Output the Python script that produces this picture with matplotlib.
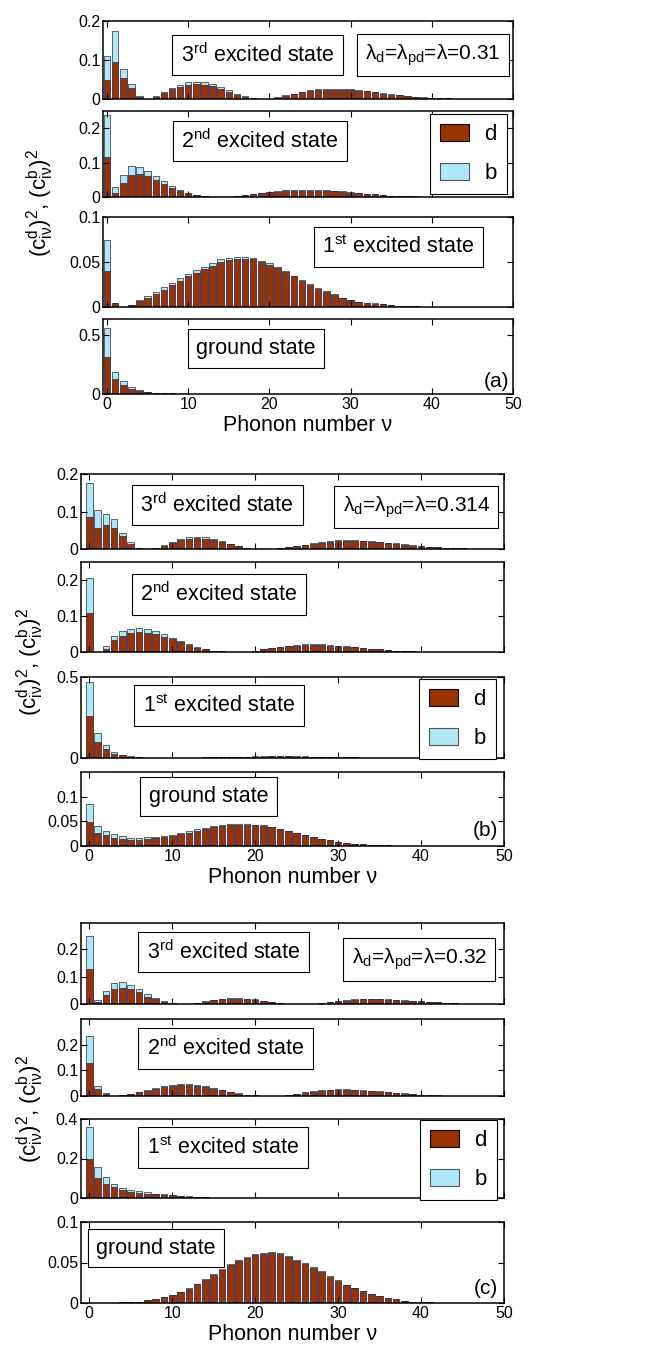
import matplotlib
matplotlib.use('Agg')
import matplotlib.pyplot as plt
from matplotlib.patches import Patch

plt.rcParams['font.family'] = ['Liberation Sans', 'DejaVu Sans']
plt.rcParams['mathtext.fontset'] = 'custom'
plt.rcParams['mathtext.rm'] = 'Liberation Sans'
plt.rcParams['mathtext.it'] = 'Liberation Sans'
plt.rcParams['mathtext.default'] = 'regular'

nu = list(range(51))

# ---- panel (a), lambda = 0.31 : total bar height (d+b) and d part ----
a3_tot = [0.109, 0.174, 0.077, 0.038, 0.0076, 0.0, 0.0076, 0.018, 0.029, 0.037, 0.043, 0.044, 0.043, 0.038, 0.030,
          0.022, 0.013, 0.007, 0.002, 0.0005, 0.001, 0.004, 0.009, 0.014, 0.019, 0.023, 0.025, 0.026, 0.026, 0.026,
          0.025, 0.023, 0.021, 0.018, 0.015, 0.012, 0.010, 0.007, 0.005, 0.004, 0.003, 0.002, 0.0015, 0.001, 0.0007,
          0.0005, 0.0003, 0.0002, 0.0001, 0.0, 0.0]
a3_d = [0.050, 0.096, 0.054, 0.027, 0.006, 0.0, 0.006, 0.015, 0.025, 0.032, 0.037, 0.038, 0.037, 0.033, 0.026,
        0.019, 0.011, 0.006, 0.002, 0.0004, 0.001, 0.0037, 0.0084, 0.013, 0.0177, 0.0214, 0.0233, 0.0242, 0.0242, 0.0242,
        0.0233, 0.0214, 0.0195, 0.0167, 0.014, 0.0112, 0.0093, 0.0065, 0.0047, 0.0037, 0.0028, 0.0019, 0.0014, 0.0009, 0.0007,
        0.0005, 0.0003, 0.0002, 0.0001, 0.0, 0.0]

a2_tot = [0.238, 0.028, 0.064, 0.091, 0.087, 0.077, 0.062, 0.046, 0.032, 0.020, 0.013, 0.006, 0.002, 0.0005, 0.0003,
          0.001, 0.003, 0.006, 0.009, 0.012, 0.015, 0.017, 0.019, 0.020, 0.020, 0.020, 0.020, 0.019, 0.018, 0.016,
          0.014, 0.012, 0.010, 0.008, 0.006, 0.004, 0.003, 0.002, 0.0015, 0.001, 0.0007, 0.0005, 0.0003, 0.0002, 0.0001,
          0.0, 0.0, 0.0, 0.0, 0.0, 0.0]
a2_d = [0.117, 0.012, 0.041, 0.064, 0.067, 0.061, 0.050, 0.038, 0.026, 0.017, 0.011, 0.005, 0.0017, 0.0004, 0.0002,
        0.0009, 0.0028, 0.0056, 0.0084, 0.0112, 0.014, 0.0158, 0.0177, 0.0186, 0.0186, 0.0186, 0.0186, 0.0177, 0.0167, 0.0149,
        0.013, 0.0112, 0.0093, 0.0074, 0.0056, 0.0037, 0.0028, 0.0019, 0.0014, 0.0009, 0.0007, 0.0005, 0.0003, 0.0002, 0.0001,
        0.0, 0.0, 0.0, 0.0, 0.0, 0.0]

a1_tot = [0.074, 0.0044, 0.0002, 0.0026, 0.0074, 0.012, 0.017, 0.022, 0.027, 0.032, 0.037, 0.041, 0.045, 0.049, 0.053,
          0.054, 0.055, 0.055, 0.054, 0.051, 0.049, 0.044, 0.040, 0.035, 0.030, 0.026, 0.021, 0.018, 0.014, 0.010,
          0.008, 0.006, 0.005, 0.004, 0.003, 0.002, 0.0015, 0.001, 0.0008, 0.0005, 0.0003, 0.0002, 0.0001, 0.0, 0.0,
          0.0, 0.0, 0.0, 0.0, 0.0, 0.0]
a1_d = [0.040, 0.004, 0.0002, 0.0024, 0.0063, 0.010, 0.015, 0.019, 0.025, 0.029, 0.034, 0.038, 0.042, 0.046, 0.050,
        0.052, 0.053, 0.053, 0.053, 0.050, 0.047, 0.043, 0.039, 0.034, 0.029, 0.025, 0.020, 0.017, 0.013, 0.0095,
        0.0075, 0.0057, 0.0047, 0.0038, 0.0028, 0.0019, 0.0014, 0.0009, 0.0007, 0.0005, 0.0003, 0.0002, 0.0001, 0.0, 0.0,
        0.0, 0.0, 0.0, 0.0, 0.0, 0.0]

a0_tot = [0.565, 0.190, 0.107, 0.056, 0.031, 0.020, 0.011, 0.007, 0.005, 0.004, 0.003, 0.002, 0.0015, 0.0012, 0.001,
          0.001, 0.0008, 0.0006, 0.0005, 0.0004, 0.0003, 0.0002, 0.0001, 0.0, 0.0, 0.0, 0.0, 0.0, 0.0, 0.0,
          0.0, 0.0, 0.0, 0.0, 0.0, 0.0, 0.0, 0.0, 0.0, 0.0, 0.0, 0.0, 0.0, 0.0, 0.0,
          0.0, 0.0, 0.0, 0.0, 0.0, 0.0]
a0_d = [0.316, 0.124, 0.073, 0.040, 0.025, 0.016, 0.009, 0.006, 0.0045, 0.0035, 0.0027, 0.0018, 0.0013, 0.0011, 0.0009,
        0.0009, 0.0007, 0.0005, 0.0004, 0.0003, 0.0002, 0.0002, 0.0001, 0.0, 0.0, 0.0, 0.0, 0.0, 0.0, 0.0,
        0.0, 0.0, 0.0, 0.0, 0.0, 0.0, 0.0, 0.0, 0.0, 0.0, 0.0, 0.0, 0.0, 0.0, 0.0,
        0.0, 0.0, 0.0, 0.0, 0.0, 0.0]

# ---- panel (b), lambda = 0.314 ----
b3_tot = [0.176, 0.105, 0.093, 0.080, 0.044, 0.018, 0.004, 0.001, 0.003, 0.011, 0.018, 0.026, 0.031, 0.033, 0.031,
          0.027, 0.021, 0.014, 0.008, 0.0035, 0.001, 0.0003, 0.001, 0.003, 0.005, 0.009, 0.012, 0.015, 0.018, 0.021,
          0.023, 0.023, 0.023, 0.022, 0.021, 0.019, 0.017, 0.015, 0.013, 0.010, 0.008, 0.006, 0.005, 0.003, 0.002,
          0.0015, 0.001, 0.0008, 0.0005, 0.0003, 0.0002]
b3_d = [0.085, 0.057, 0.063, 0.057, 0.034, 0.014, 0.0035, 0.001, 0.0027, 0.009, 0.016, 0.024, 0.027, 0.029, 0.027,
        0.024, 0.019, 0.013, 0.0072, 0.003, 0.001, 0.0003, 0.001, 0.0028, 0.0047, 0.0084, 0.011, 0.014, 0.017, 0.0195,
        0.0214, 0.0214, 0.0214, 0.0205, 0.0195, 0.0177, 0.0158, 0.014, 0.012, 0.0093, 0.0074, 0.0056, 0.0047, 0.0028, 0.0019,
        0.0014, 0.0009, 0.0007, 0.0005, 0.0003, 0.0002]

b2_tot = [0.205, 0.001, 0.018, 0.044, 0.059, 0.065, 0.066, 0.064, 0.057, 0.049, 0.039, 0.031, 0.021, 0.014, 0.008,
          0.004, 0.002, 0.001, 0.001, 0.001, 0.004, 0.0075, 0.011, 0.014, 0.017, 0.019, 0.021, 0.021, 0.021, 0.019,
          0.018, 0.016, 0.014, 0.012, 0.009, 0.0075, 0.0056, 0.004, 0.003, 0.002, 0.001, 0.001, 0.0005, 0.0003, 0.0002,
          0.0001, 0.0, 0.0, 0.0, 0.0, 0.0]
b2_d = [0.107, 0.0005, 0.009, 0.033, 0.044, 0.053, 0.055, 0.054, 0.050, 0.043, 0.035, 0.027, 0.019, 0.012, 0.007,
        0.0035, 0.0018, 0.0009, 0.0009, 0.0009, 0.0037, 0.007, 0.010, 0.013, 0.0158, 0.0177, 0.0195, 0.0195, 0.0195, 0.0177,
        0.0167, 0.0149, 0.013, 0.011, 0.0084, 0.007, 0.0052, 0.0037, 0.0028, 0.0019, 0.0009, 0.0009, 0.0005, 0.0003, 0.0002,
        0.0001, 0.0, 0.0, 0.0, 0.0, 0.0]

b1_tot = [0.47, 0.153, 0.082, 0.039, 0.020, 0.010, 0.005, 0.002, 0.001, 0.0008, 0.0008, 0.001, 0.002, 0.003, 0.004,
          0.005, 0.006, 0.007, 0.008, 0.009, 0.010, 0.010, 0.011, 0.011, 0.011, 0.010, 0.010, 0.009, 0.008, 0.007,
          0.006, 0.005, 0.004, 0.003, 0.003, 0.002, 0.002, 0.001, 0.0008, 0.0005, 0.0003, 0.0002, 0.0, 0.0, 0.0,
          0.0, 0.0, 0.0, 0.0, 0.0, 0.0]
b1_d = [0.26, 0.098, 0.055, 0.027, 0.016, 0.008, 0.004, 0.0015, 0.0008, 0.0007, 0.0007, 0.0009, 0.0018, 0.0027, 0.0036,
        0.0045, 0.0055, 0.0064, 0.0073, 0.0082, 0.0091, 0.0091, 0.010, 0.010, 0.010, 0.0091, 0.0091, 0.0082, 0.0073, 0.0064,
        0.0055, 0.0045, 0.0036, 0.0027, 0.0027, 0.0018, 0.0018, 0.0009, 0.0007, 0.0005, 0.0003, 0.0002, 0.0, 0.0, 0.0,
        0.0, 0.0, 0.0, 0.0, 0.0, 0.0]

b0_tot = [0.086, 0.040, 0.030, 0.024, 0.020, 0.017, 0.017, 0.018, 0.019, 0.021, 0.023, 0.0265, 0.030, 0.034, 0.037,
          0.040, 0.042, 0.044, 0.045, 0.045, 0.0435, 0.042, 0.039, 0.035, 0.031, 0.0265, 0.023, 0.018, 0.015, 0.0116,
          0.009, 0.0068, 0.0048, 0.0034, 0.0027, 0.002, 0.0014, 0.001, 0.0006, 0.0004, 0.0002, 0.0001, 0.0, 0.0, 0.0,
          0.0, 0.0, 0.0, 0.0, 0.0, 0.0]
b0_d = [0.049, 0.027, 0.022, 0.016, 0.0136, 0.013, 0.013, 0.0136, 0.0156, 0.018, 0.021, 0.024, 0.027, 0.031, 0.035,
        0.038, 0.040, 0.042, 0.043, 0.043, 0.042, 0.041, 0.038, 0.034, 0.030, 0.0258, 0.0224, 0.0175, 0.0146, 0.0113,
        0.0088, 0.0066, 0.0047, 0.0033, 0.0026, 0.0019, 0.0013, 0.001, 0.0006, 0.0004, 0.0002, 0.0001, 0.0, 0.0, 0.0,
        0.0, 0.0, 0.0, 0.0, 0.0, 0.0]

# ---- panel (c), lambda = 0.32 ----
c3_tot = [0.249, 0.015, 0.046, 0.078, 0.079, 0.068, 0.054, 0.037, 0.022, 0.010, 0.004, 0.001, 0.001, 0.005, 0.010,
          0.015, 0.0195, 0.022, 0.022, 0.0195, 0.017, 0.012, 0.0073, 0.0037, 0.001, 0.0003, 0.0003, 0.001, 0.0024, 0.006,
          0.010, 0.0134, 0.017, 0.018, 0.018, 0.018, 0.017, 0.016, 0.0134, 0.012, 0.010, 0.0073, 0.006, 0.0037, 0.0024,
          0.0015, 0.001, 0.0008, 0.0005, 0.0003, 0.0002]
c3_d = [0.127, 0.007, 0.032, 0.054, 0.060, 0.054, 0.043, 0.027, 0.018, 0.008, 0.0035, 0.0008, 0.0008, 0.0045, 0.009,
        0.0135, 0.0176, 0.0198, 0.0198, 0.0176, 0.0153, 0.0108, 0.0066, 0.0033, 0.0009, 0.0003, 0.0003, 0.0009, 0.0022, 0.0055,
        0.0092, 0.0123, 0.0156, 0.0166, 0.0166, 0.0166, 0.0156, 0.0147, 0.0123, 0.011, 0.0092, 0.0067, 0.0055, 0.0034, 0.0022,
        0.0014, 0.0009, 0.0007, 0.0005, 0.0003, 0.0002]

c2_tot = [0.235, 0.040, 0.010, 0.001, 0.003, 0.008, 0.016, 0.0235, 0.031, 0.039, 0.044, 0.047, 0.046, 0.043, 0.038,
          0.031, 0.025, 0.017, 0.010, 0.005, 0.0026, 0.001, 0.0008, 0.001, 0.004, 0.009, 0.014, 0.018, 0.022, 0.025,
          0.026, 0.026, 0.025, 0.0235, 0.021, 0.018, 0.016, 0.013, 0.010, 0.008, 0.005, 0.0026, 0.002, 0.001, 0.0008,
          0.0005, 0.0003, 0.0002, 0.0001, 0.0, 0.0]
c2_d = [0.128, 0.026, 0.009, 0.0008, 0.0027, 0.0072, 0.014, 0.020, 0.027, 0.034, 0.039, 0.042, 0.042, 0.039, 0.034,
        0.027, 0.022, 0.015, 0.009, 0.0045, 0.0023, 0.0009, 0.0007, 0.0009, 0.0036, 0.0081, 0.0126, 0.0162, 0.0198, 0.0225,
        0.0234, 0.0234, 0.0225, 0.0212, 0.019, 0.0162, 0.0144, 0.0117, 0.009, 0.0072, 0.0045, 0.0023, 0.0018, 0.0009, 0.0007,
        0.0005, 0.0003, 0.0002, 0.0001, 0.0, 0.0]

c1_tot = [0.357, 0.159, 0.107, 0.071, 0.050, 0.038, 0.033, 0.028, 0.022, 0.019, 0.016, 0.012, 0.009, 0.005, 0.0035,
          0.002, 0.0015, 0.001, 0.001, 0.001, 0.001, 0.0012, 0.0015, 0.0018, 0.002, 0.0022, 0.0024, 0.0025, 0.0025, 0.0024,
          0.0022, 0.002, 0.0018, 0.0015, 0.0012, 0.001, 0.0008, 0.0006, 0.0004, 0.0003, 0.0002, 0.0001, 0.0, 0.0, 0.0,
          0.0, 0.0, 0.0, 0.0, 0.0, 0.0]
c1_d = [0.198, 0.103, 0.072, 0.055, 0.038, 0.029, 0.026, 0.022, 0.019, 0.016, 0.013, 0.010, 0.0075, 0.0042, 0.003,
        0.0017, 0.0013, 0.0009, 0.0009, 0.0009, 0.0009, 0.0011, 0.0013, 0.0016, 0.0018, 0.002, 0.0022, 0.0023, 0.0023, 0.0022,
        0.002, 0.0018, 0.0016, 0.0013, 0.0011, 0.0009, 0.0007, 0.0005, 0.0004, 0.0003, 0.0002, 0.0001, 0.0, 0.0, 0.0,
        0.0, 0.0, 0.0, 0.0, 0.0, 0.0]

c0_tot = [0.0003, 0.0003, 0.0004, 0.0005, 0.0007, 0.001, 0.0017, 0.0033, 0.0054, 0.0079, 0.0104, 0.014, 0.0187, 0.024, 0.030,
          0.0357, 0.0423, 0.048, 0.053, 0.057, 0.0606, 0.0622, 0.0627, 0.0614, 0.058, 0.053, 0.049, 0.044, 0.039, 0.033,
          0.028, 0.0228, 0.0183, 0.0145, 0.0112, 0.0083, 0.0062, 0.0046, 0.0029, 0.0017, 0.0012, 0.0008, 0.0004, 0.0003, 0.0002,
          0.0001, 0.0001, 0.0, 0.0, 0.0, 0.0]
c0_d = [0.0003, 0.0003, 0.0004, 0.0005, 0.0007, 0.001, 0.0016, 0.0031, 0.0051, 0.0075, 0.0099, 0.0133, 0.0178, 0.0229, 0.0287,
        0.0342, 0.0407, 0.0463, 0.0513, 0.0553, 0.0590, 0.0607, 0.0613, 0.0601, 0.0568, 0.0520, 0.0481, 0.0432, 0.0384, 0.0325,
        0.0276, 0.0225, 0.0181, 0.0143, 0.0111, 0.0082, 0.0061, 0.0045, 0.0029, 0.0017, 0.0012, 0.0008, 0.0004, 0.0003, 0.0002,
        0.0001, 0.0001, 0.0, 0.0, 0.0, 0.0]

state_labels = ['3$^{rd}$ excited state', '2$^{nd}$ excited state', '1$^{st}$ excited state', 'ground state']
lambda_labels = ['λ$_d$=λ$_{pd}$=λ=0.31', 'λ$_d$=λ$_{pd}$=λ=0.314', 'λ$_d$=λ$_{pd}$=λ=0.32']
tags = ['(a)', '(b)', '(c)']
xticks = [0, 10, 20, 30, 40, 50]

# ---- layout (pixels of the 663x1353 picture) ----
W, H = 663, 1353
groups = [
    dict(data=[(a3_tot, a3_d), (a2_tot, a2_d), (a1_tot, a1_d), (a0_tot, a0_d)],
         x0=103, x1=513, xlo=-0.5,
         rows=[(21, 99), (111, 197), (217, 307), (319, 394)],
         ylims=[0.2, 0.25, 0.1, 0.64],
         yticks=[[0, 0.1, 0.2], [0, 0.1, 0.2], [0, 0.05, 0.1], [0, 0.5]],
         state_pos=[(0.378, 0.564), (0.383, 0.651), (0.72, 0.667), (0.373, 0.607)],
         lam_pos=(0.805, 0.564), leg_row=1, leg_anchor=(0.985, 0.965),
         tag_pos=(0.99, 0.17), ylab=(40, 203)),
    dict(data=[(b3_tot, b3_d), (b2_tot, b2_d), (b1_tot, b1_d), (b0_tot, b0_d)],
         x0=81, x1=504, xlo=-1,
         rows=[(474, 549), (562, 652), (677, 758), (772, 846)],
         ylims=[0.2, 0.25, 0.5, 0.15],
         yticks=[[0, 0.1, 0.2], [0, 0.1, 0.2], [0, 0.5], [0, 0.05, 0.1]],
         state_pos=[(0.322, 0.587), (0.326, 0.639), (0.326, 0.648), (0.301, 0.669)],
         lam_pos=(0.793, 0.56), leg_row=2, leg_anchor=(0.981, 0.975),
         tag_pos=(0.985, 0.216), ylab=(30, 662)),
    dict(data=[(c3_tot, c3_d), (c2_tot, c2_d), (c1_tot, c1_d), (c0_tot, c0_d)],
         x0=81, x1=504, xlo=-1,
         rows=[(923, 1004), (1019, 1096), (1119, 1198), (1222, 1303)],
         ylims=[0.295, 0.3, 0.4, 0.1],
         yticks=[[0, 0.1, 0.2], [0, 0.1, 0.2], [0, 0.2, 0.4], [0, 0.05, 0.1]],
         state_pos=[(0.338, 0.642), (0.342, 0.617), (0.336, 0.639), (0.177, 0.679)],
         lam_pos=(0.80, 0.549), leg_row=2, leg_anchor=(0.983, 0.987),
         tag_pos=(0.985, 0.185), ylab=(30, 1109)),
]

d_color = '#993300'
b_color = '#aee8f8'
box = dict(boxstyle='square,pad=0.4', fc='white', ec='black', lw=0.8)


def fmt(v):
    return '0' if v == 0 else ('%g' % v)


fig = plt.figure(figsize=(W / 100, H / 100), dpi=100)

for gi, g in enumerate(groups):
    for ri, (top, bot) in enumerate(g['rows']):
        ax = fig.add_axes([g['x0'] / W, 1 - bot / H, (g['x1'] - g['x0']) / W, (bot - top) / H])
        tot, dd = g['data'][ri]
        bb = [t - d for t, d in zip(tot, dd)]
        ax.bar(nu, dd, width=0.8, color=d_color, edgecolor='#15156a', linewidth=0.5)
        ax.bar(nu, bb, bottom=dd, width=0.8, color=b_color, edgecolor='#2a2a2a', linewidth=0.5)
        ax.set_xlim(g['xlo'], 50)
        ax.set_ylim(0, g['ylims'][ri])
        ax.set_xticks(xticks)
        ax.set_yticks(g['yticks'][ri])
        ax.set_yticklabels([fmt(v) for v in g['yticks'][ri]])
        ax.tick_params(direction='in', top=True, right=True, length=4, width=0.8,
                       labelsize=11.5, pad=2, labelbottom=(ri == 3))
        for s in ax.spines.values():
            s.set_linewidth(1.1)
        ax.text(*g['state_pos'][ri], state_labels[ri], transform=ax.transAxes,
                ha='center', va='center', fontsize=15.5, bbox=box)
        if ri == 0:
            ax.text(*g['lam_pos'], lambda_labels[gi], transform=ax.transAxes,
                    ha='center', va='center', fontsize=15, bbox=box)
        if ri == g['leg_row']:
            handles = [Patch(facecolor=d_color, edgecolor='black', lw=0.8),
                       Patch(facecolor=b_color, edgecolor='#555555', lw=0.8)]
            leg = ax.legend(handles, ['d', 'b'], loc='upper right', bbox_to_anchor=g['leg_anchor'],
                            borderaxespad=0, fontsize=16, handlelength=1.3, handleheight=0.8,
                            labelspacing=0.8, borderpad=0.45, handletextpad=0.7, fancybox=False,
                            framealpha=1, edgecolor='black')
            leg.get_frame().set_linewidth(0.8)
        if ri == 3:
            ax.text(*g['tag_pos'], tags[gi], transform=ax.transAxes, ha='right', va='center', fontsize=15)
            ax.set_xlabel('Phonon number ν', fontsize=15.5, labelpad=2)
    fig.text(g['ylab'][0] / W, 1 - g['ylab'][1] / H,
             '(c$^d_{iν}$)$^2$, (c$^b_{iν}$)$^2$', rotation=90, ha='center', va='center', fontsize=16)

fig.savefig('out.png', dpi=100)
